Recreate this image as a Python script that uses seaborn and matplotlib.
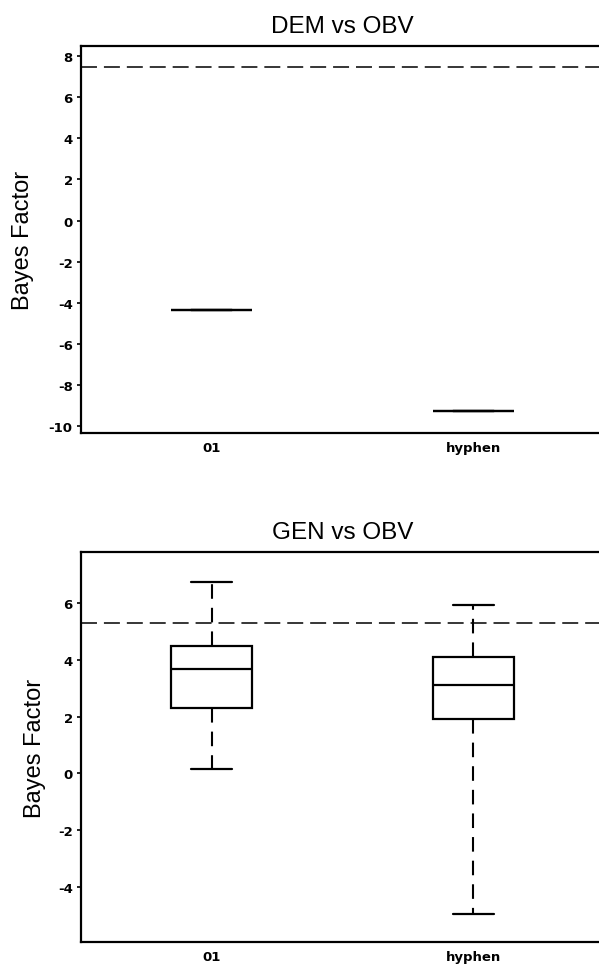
import matplotlib
matplotlib.use("Agg")
import matplotlib.pyplot as plt
import seaborn as sns
import pandas as pd

# ---- data ----
categories = ["01", "hyphen"]
# DEM vs OBV: single value per category
dem_01 = [-4.35]
dem_hyphen = [-9.28]
dem_threshold = 7.5
# GEN vs OBV: five-number summaries (min, Q1, median, Q3, max)
gen_01 = [0.16, 2.30, 3.68, 4.50, 6.73]
gen_hyphen = [-4.95, 1.92, 3.13, 4.09, 5.93]
gen_threshold = 5.3

titles = ["DEM vs OBV", "GEN vs OBV"]
ylabel = "Bayes Factor"
dem_yticks = [-10, -8, -6, -4, -2, 0, 2, 4, 6, 8]
gen_yticks = [-4, -2, 0, 2, 4, 6]

sns.set_theme(style="white")
plt.rcParams["lines.scale_dashes"] = False
plt.rcParams["axes.unicode_minus"] = False
plt.rcParams["text.color"] = "black"
plt.rcParams["axes.labelcolor"] = "black"
plt.rcParams["font.family"] = ["Liberation Sans", "DejaVu Sans"]

def make_df(a, b):
    return pd.DataFrame({
        "cat": [categories[0]] * len(a) + [categories[1]] * len(b),
        "val": list(a) + list(b),
    })

fig = plt.figure(figsize=(5.99, 9.70), dpi=100)
left, width = 81 / 599, 523 / 599
ax1 = fig.add_axes([left, 1 - 434 / 970, width, 387 / 970])
ax2 = fig.add_axes([left, 1 - 943 / 970, width, 390 / 970])

box_kw = dict(
    x="cat", y="val", order=categories, width=0.31, whis=(0, 100),
    color="white", linewidth=1.6, linecolor="black", showfliers=False,
    boxprops=dict(facecolor="white", edgecolor="black", linewidth=1.6),
    medianprops=dict(color="black", linewidth=1.6),
    whiskerprops=dict(color="black", linewidth=1.5, linestyle=(0, (10.5, 6.5))),
    capprops=dict(color="black", linewidth=1.6),
)

sns.boxplot(data=make_df(dem_01, dem_hyphen), ax=ax1, **box_kw)
sns.boxplot(data=make_df(gen_01, gen_hyphen), ax=ax2, **box_kw)

for ax, thr, yt, ylim, title, lab_x in [
    (ax1, dem_threshold, dem_yticks, (-10.35, 8.5), titles[0], -0.090),
    (ax2, gen_threshold, gen_yticks, (-5.94, 7.8), titles[1], -0.067),
]:
    ax.axhline(thr, color="black", linewidth=1.1, linestyle=(0, (11.5, 5)))
    ax.set_xlim(-0.5, 1.5)
    ax.set_ylim(*ylim)
    ax.set_yticks(yt)
    ax.set_title(title, fontsize=17.5, pad=10, color="black")
    ax.set_xlabel("")
    ax.set_ylabel(ylabel, fontsize=17, color="black")
    ax.yaxis.set_label_coords(lab_x, 0.5)
    ax.tick_params(axis="y", direction="out", length=3, width=1.2,
                   pad=3, left=True, colors="black")
    ax.tick_params(axis="x", length=0, pad=6, colors="black")
    for lbl in ax.get_yticklabels() + ax.get_xticklabels():
        lbl.set_fontfamily("DejaVu Sans")
        lbl.set_fontweight("bold")
        lbl.set_fontsize(9.5)
    for s in ax.spines.values():
        s.set_color("black")
        s.set_linewidth(1.6)
        s.set_visible(True)
    ax.set_facecolor("white")

fig.savefig("out.png", dpi=100, facecolor="white")
